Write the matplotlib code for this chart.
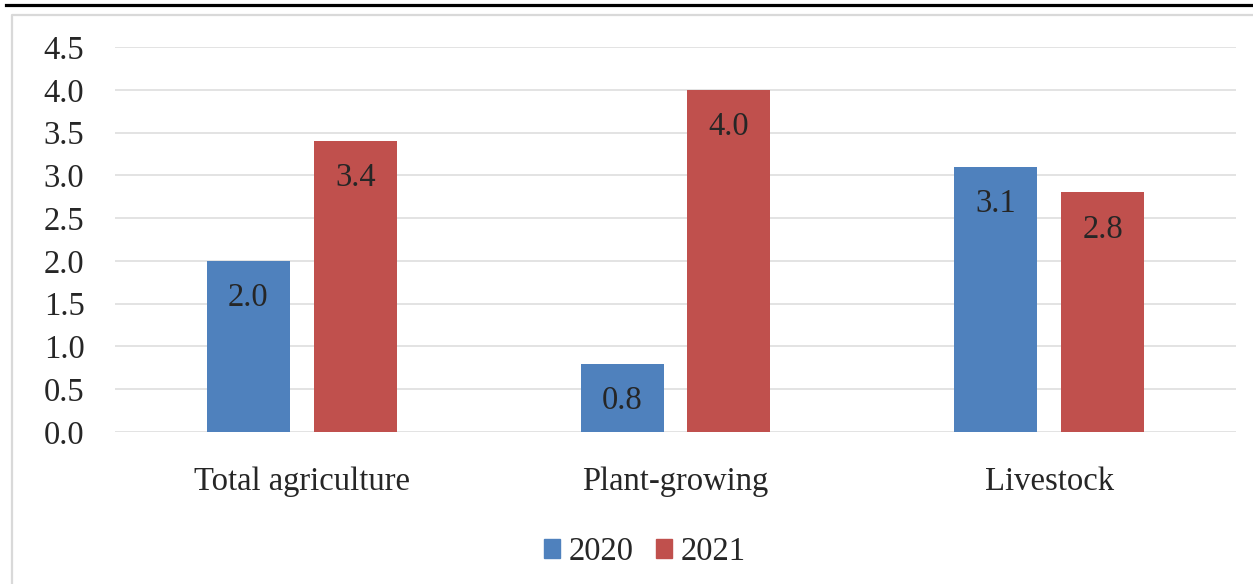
import matplotlib
matplotlib.use("Agg")
import matplotlib.pyplot as plt
import numpy as np
from matplotlib.lines import Line2D
from matplotlib.patches import Patch

categories = ["Total agriculture", "Plant-growing", "Livestock"]
years = ["2020", "2021"]
values_2020 = [2.0, 0.8, 3.1]
values_2021 = [3.4, 4.0, 2.8]
yticks = [0.0, 0.5, 1.0, 1.5, 2.0, 2.5, 3.0, 3.5, 4.0, 4.5]

colors = ["#4F81BD", "#C0504D"]
W, H = 1253, 584
plt.rcParams['font.family'] = ['Liberation Serif', 'DejaVu Serif']
fig = plt.figure(figsize=(W / 100, H / 100), dpi=100)

ax = fig.add_axes([115 / W, 1 - 432 / H, (1236 - 115) / W, (432 - 47) / H])
x = np.arange(len(categories))
bw = 0.222
off = 0.143
series = [values_2020, values_2021]
fs = 23.5
for i, (vals, c) in enumerate(zip(series, colors)):
    pos = x + (-off if i == 0 else off)
    bars = ax.bar(pos, vals, width=bw, color=c, zorder=3)
    for b, v in zip(bars, vals):
        ax.annotate(f"{v:.1f}", (b.get_x() + b.get_width() / 2, v),
                    xytext=(0, -26.5), textcoords="offset points",
                    ha="center", va="center", fontsize=fs, color="#262626", zorder=4)

ax.set_xlim(-0.5, 2.5)
ax.set_ylim(0, 4.5)
ax.set_yticks(yticks)
ax.set_yticklabels([f"{t:.1f}" for t in yticks], fontsize=fs, color="#262626")
ax.set_xticks(x)
ax.set_xticklabels(categories, fontsize=fs, color="#262626")
ax.tick_params(axis="both", length=0)
ax.tick_params(axis="y", pad=22)
ax.tick_params(axis="x", pad=25)
for s in ax.spines.values():
    s.set_visible(False)
ax.yaxis.grid(True, color="#dedede", linewidth=1.2, zorder=0)
ax.set_axisbelow(True)

handles = [Patch(facecolor=c, edgecolor=c) for c in colors]
fig.legend(handles, years, loc="center", bbox_to_anchor=(645 / W, 1 - 552 / H),
           ncol=2, frameon=False, fontsize=fs, handlelength=0.5, handleheight=0.5,
           handletextpad=0.27, columnspacing=0.67, labelcolor="#262626")

# frame lines
fig.add_artist(Line2D([6 / W, 1], [1 - 5 / H, 1 - 5 / H], color="black", linewidth=2.3,
                      transform=fig.transFigure))
fig.add_artist(Line2D([12 / W, 12 / W, 1], [0, 1 - 15 / H, 1 - 15 / H], color="#d9d9d9",
                      linewidth=1.6, transform=fig.transFigure))

fig.savefig("out.png", dpi=100)
